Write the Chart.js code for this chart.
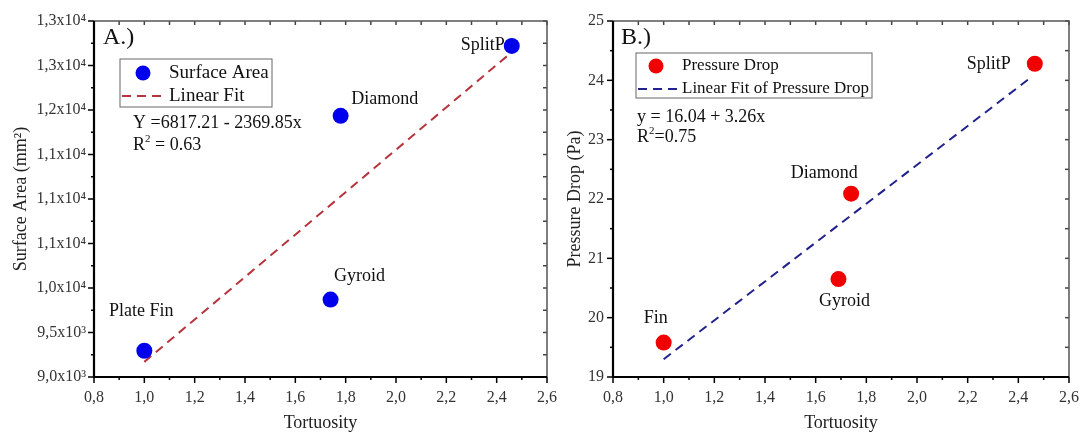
<!DOCTYPE html>
<html>
<head>
<meta charset="utf-8">
<script src="https://cdn.jsdelivr.net/npm/chart.js@4.4.0/dist/chart.umd.min.js"></script>
<style>
  html, body { margin: 0; padding: 0; background: #fff; }
  body { width: 1082px; height: 434px; position: relative; overflow: hidden; }
  .panel { position: absolute; top: 0; height: 434px; }
  #boxA { left: 0; width: 560px; }
  #boxB { left: 540px; width: 542px; }
</style>
</head>
<body>
<div class="panel" id="boxA"><canvas id="chartA"></canvas></div>
<div class="panel" id="boxB"><canvas id="chartB"></canvas></div>
<script>
// panel A data
const namesA = ['Plate Fin', 'Gyroid', 'Diamond', 'SplitP'];
const tortA = [1.0, 1.74, 1.78, 2.46];
const surfaceArea = [9295, 9870, 11935, 12720];
const fitAX = [1.0, 2.46];
const fitAY = [9170, 12650];

// panel B data
const namesB = ['Fin', 'Gyroid', 'Diamond', 'SplitP'];
const tortB = [1.0, 1.69, 1.74, 2.465];
const pressureDrop = [19.58, 20.65, 22.09, 24.28];
const fitBX = [1.0, 2.45];
const fitBY = [19.3, 24.05];

// tick labels
const xTicks = ['0,8', '1,0', '1,2', '1,4', '1,6', '1,8', '2,0', '2,2', '2,4', '2,6'];
const yTicksA = ['9,0x10³', '9,5x10³', '1,0x10⁴', '1,1x10⁴', '1,1x10⁴', '1,1x10⁴', '1,2x10⁴', '1,3x10⁴', '1,3x10⁴'];
const yTicksB = ['19', '20', '21', '22', '23', '24', '25'];

const serif = "'Liberation Serif', 'Times New Roman', serif";

// draw text with superscript parts: [text, isSup]
function richText(ctx, parts, x, y, size) {
    let cx = x;
    parts.forEach(([t, sup]) => {
        const fs = sup ? Math.round(size * 0.62) : size;
        ctx.font = fs + 'px ' + serif;
        ctx.fillText(t, cx, sup ? y - size * 0.32 : y);
        cx += ctx.measureText(t).width;
    });
}

function framePlugin(cfg) {
    return {
        id: 'frame' + cfg.id,
        afterDatasetsDraw(chart) {
            const { ctx, chartArea: a, scales: { x, y } } = chart;
            ctx.save();
            // ticks
            ctx.lineWidth = 1.5;
            for (let i = 0; ; i++) {
                const v = x.min + i * cfg.xMinor;
                if (v > x.max + 1e-6) break;
                const px = x.getPixelForValue(v);
                ctx.strokeStyle = '#000';
                ctx.beginPath();
                ctx.moveTo(px, a.bottom);
                ctx.lineTo(px, a.bottom + (i % 2 === 0 ? 6 : 3));
                ctx.stroke();
                ctx.strokeStyle = '#444';
                ctx.beginPath();
                ctx.moveTo(px, a.top);
                ctx.lineTo(px, a.top + 4);
                ctx.stroke();
            }
            for (let i = 0; ; i++) {
                const v = y.min + i * cfg.yMinor;
                if (v > y.max + 1e-6) break;
                const py = y.getPixelForValue(v);
                ctx.strokeStyle = '#000';
                ctx.beginPath();
                ctx.moveTo(a.left, py);
                ctx.lineTo(a.left - (i % 2 === 0 ? 6 : 3), py);
                ctx.stroke();
                ctx.strokeStyle = '#444';
                ctx.beginPath();
                ctx.moveTo(a.right, py);
                ctx.lineTo(a.right - 4, py);
                ctx.stroke();
            }
            // top / right border
            ctx.strokeStyle = '#555';
            ctx.lineWidth = 1.5;
            ctx.beginPath();
            ctx.moveTo(a.left, a.top);
            ctx.lineTo(a.right, a.top);
            ctx.lineTo(a.right, a.bottom);
            ctx.stroke();
            // left / bottom axes
            ctx.strokeStyle = '#000';
            ctx.lineWidth = 2.2;
            ctx.beginPath();
            ctx.moveTo(a.left, a.top);
            ctx.lineTo(a.left, a.bottom);
            ctx.lineTo(a.right, a.bottom);
            ctx.stroke();

            // point labels
            ctx.fillStyle = '#111';
            ctx.font = '18px ' + serif;
            ctx.textAlign = 'center';
            ctx.textBaseline = 'middle';
            const meta = chart.getDatasetMeta(0);
            cfg.names.forEach((n, i) => {
                const el = meta.data[i];
                ctx.fillText(n, el.x + cfg.offsets[i][0], el.y + cfg.offsets[i][1]);
            });

            // panel letter
            ctx.textAlign = 'left';
            ctx.font = '24px ' + serif;
            ctx.fillText(cfg.letter, cfg.letterPos[0], cfg.letterPos[1]);

            // legend box
            const L = cfg.legend;
            ctx.strokeStyle = '#666';
            ctx.lineWidth = 1;
            ctx.strokeRect(L.x, L.y, L.w, L.h);
            const ds = chart.data.datasets;
            ctx.fillStyle = ds[0].backgroundColor;
            ctx.beginPath();
            ctx.arc(L.markX, L.row1, 7.5, 0, Math.PI * 2);
            ctx.fill();
            ctx.strokeStyle = ds[1].borderColor;
            ctx.lineWidth = 2;
            ctx.setLineDash([9, 6]);
            ctx.beginPath();
            ctx.moveTo(L.x + 2, L.row2);
            ctx.lineTo(L.textX - 2, L.row2);
            ctx.stroke();
            ctx.setLineDash([]);
            ctx.fillStyle = '#111';
            ctx.font = L.size + 'px ' + serif;
            ctx.fillText(ds[0].label, L.textX, L.row1);
            ctx.fillText(ds[1].label, L.textX, L.row2);

            // equation
            ctx.font = '18px ' + serif;
            ctx.fillText(cfg.eq, cfg.eqPos[0], cfg.eqPos[1]);
            richText(ctx, cfg.r2, cfg.eqPos[0], cfg.eqPos[1] + cfg.r2Gap, 18);
            ctx.restore();
        }
    };
}

function makeChart(id, cfg) {
    return new Chart(document.getElementById(id), {
        type: 'scatter',
        data: {
            datasets: [
                {
                    label: cfg.label,
                    data: cfg.xs.map((v, i) => ({ x: v, y: cfg.ys[i] })),
                    backgroundColor: cfg.color,
                    borderColor: cfg.color,
                    borderWidth: 0,
                    pointRadius: 8,
                    pointHoverRadius: 8
                },
                {
                    label: cfg.fitLabel,
                    data: cfg.fx.map((v, i) => ({ x: v, y: cfg.fy[i] })),
                    showLine: true,
                    borderColor: cfg.fitColor,
                    borderWidth: 2,
                    borderDash: [9, 6],
                    pointRadius: 0,
                    fill: false
                }
            ]
        },
        options: {
            responsive: true,
            maintainAspectRatio: false,
            animation: false,
            layout: { padding: { left: 0, top: 21, right: cfg.padRight, bottom: 0 } },
            plugins: { legend: { display: false }, tooltip: { enabled: false } },
            scales: {
                x: {
                    type: 'linear',
                    min: 0.8,
                    max: 2.6,
                    ticks: {
                        stepSize: 0.2,
                        color: '#333',
                        padding: 3,
                        font: { family: serif, size: 16 },
                        callback: (v, i) => xTicks[i]
                    },
                    grid: { display: false },
                    border: { display: false },
                    title: {
                        display: true,
                        text: 'Tortuosity',
                        color: '#222',
                        font: { family: serif, size: 18 },
                        padding: { top: 0, bottom: 0 }
                    },
                    afterFit: s => { s.height = 57; }
                },
                y: {
                    type: 'linear',
                    min: cfg.yMin,
                    max: cfg.yMax,
                    ticks: {
                        stepSize: cfg.yStep,
                        color: '#333',
                        padding: cfg.yPad,
                        font: { family: serif, size: 16 },
                        callback: (v, i) => cfg.yTicks[i]
                    },
                    grid: { display: false },
                    border: { display: false },
                    title: {
                        display: true,
                        text: cfg.yTitle,
                        color: '#222',
                        font: { family: serif, size: 18 },
                        padding: { top: cfg.yTitlePad, bottom: 0 }
                    },
                    afterFit: s => { s.width = cfg.yWidth; }
                }
            }
        },
        plugins: [framePlugin(cfg.frame)]
    });
}

makeChart('chartA', {
    label: 'Surface Area', fitLabel: 'Linear Fit',
    xs: tortA, ys: surfaceArea, fx: fitAX, fy: fitAY,
    color: '#0000EE', fitColor: '#B8343C',
    yMin: 9000, yMax: 13000, yStep: 500, yTicks: yTicksA, yPad: 0,
    yTitle: 'Surface Area (mm²)', yTitlePad: 10, yWidth: 94, padRight: 4,
    frame: {
        id: 'A', xMinor: 0.1, yMinor: 250,
        names: namesA,
        offsets: [[-3, -39], [29, -23], [44, -17], [-29, -1]],
        letter: 'A.)', letterPos: [103, 38],
        legend: { x: 120, y: 59, w: 152, h: 48, markX: 143, row1: 73, row2: 96, textX: 169, size: 19 },
        eq: 'Y =6817.21 - 2369.85x', eqPos: [133, 123], r2Gap: 22,
        r2: [['R'], ['2', true], [' = 0.63']]
    }
});

makeChart('chartB', {
    label: 'Pressure Drop', fitLabel: 'Linear Fit of Pressure Drop',
    xs: tortB, ys: pressureDrop, fx: fitBX, fy: fitBY,
    color: '#F00000', fitColor: '#22228C',
    yMin: 19, yMax: 25, yStep: 1, yTicks: yTicksB, yPad: 1,
    yTitle: 'Pressure Drop (Pa)', yTitlePad: 24, yWidth: 73, padRight: 7,
    frame: {
        id: 'B', xMinor: 0.1, yMinor: 0.5,
        names: namesB,
        offsets: [[-8, -24], [6, 22], [-27, -20], [-46, 1]],
        letter: 'B.)', letterPos: [81, 38],
        legend: { x: 96, y: 53, w: 236, h: 45, markX: 116, row1: 66, row2: 89, textX: 142, size: 17 },
        eq: 'y = 16.04 + 3.26x', eqPos: [97, 117], r2Gap: 20,
        r2: [['R'], ['2', true], ['=0.75']]
    }
});
</script>
</body>
</html>
